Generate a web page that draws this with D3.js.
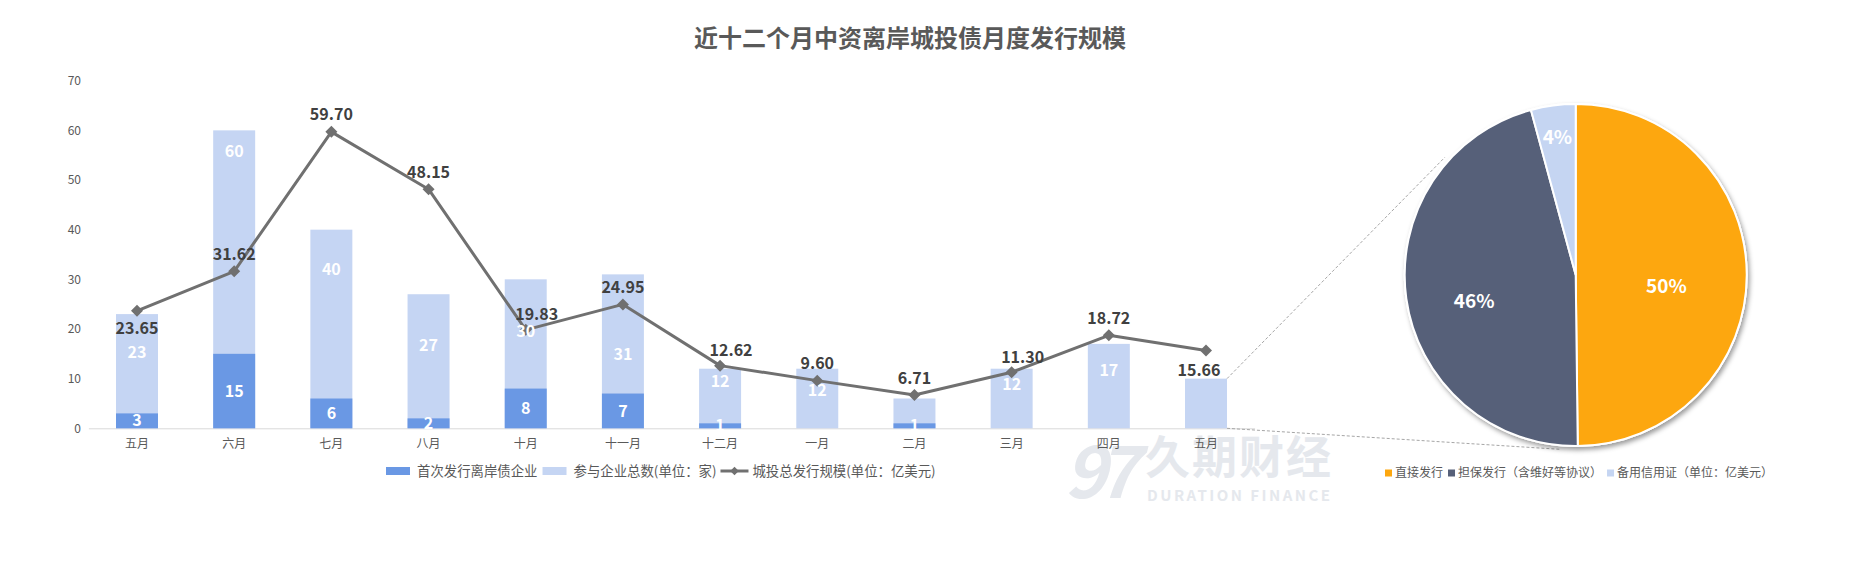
<!DOCTYPE html>
<html>
<head>
<meta charset="utf-8">
<script src="https://cdn.jsdelivr.net/npm/d3@7"></script>
<style>
    body { margin: 0; background: #fff; }
    text { font-family: "Microsoft YaHei", "Noto Sans CJK SC", sans-serif; }
</style>
</head>
<body>
<script>
// data
var months = ["五月", "六月", "七月", "八月", "十月", "十一月", "十二月", "一月", "二月", "三月", "四月", "五月"];
var firstIssuers = [3, 15, 6, 2, 8, 7, 1, 0, 1, 0, 0, 0];
var totalIssuers = [23, 60, 40, 27, 30, 31, 12, 12, 6, 12, 17, 10];
var issueAmount = [23.65, 31.62, 59.70, 48.15, 19.83, 24.95, 12.62, 9.60, 6.71, 11.30, 18.72, 15.66];
// where the total labels sit, in axis units (labels were dragged by hand in the original)
var totalLabelAt = [15.2, 55.7, 32.1, 16.6, 19.5, 14.8, 9.4, 7.7, null, 8.9, 11.6, null];
var amountLabelSide = ["below", "above", "above", "above", "right", "above", "right", "above", "above", "right", "above", "belowLeft"];
var yTicks = [0, 10, 20, 30, 40, 50, 60, 70];
var seriesNames = ["首次发行离岸债企业", "参与企业总数(单位：家)", "城投总发行规模(单位：亿美元)"];

var pieNames = ["直接发行", "担保发行（含维好等协议）", "备用信用证（单位：亿美元）"];
var pieValues = [7.80, 7.20, 0.66];
var pieLabelRadius = [0.53, 0.6, 0.81];

function init()
{
    var w = 1865;
    var h = 565;

    var darkBlue = "#6a98e4";
    var lightBlue = "#c5d5f3";
    var lineGrey = "#707070";
    var pieColors = ["#fda70f", "#566079", "#c5d5f2"];

    var svg = d3.select("body")
                .append("svg")
                .attr("width", w)
                .attr("height", h);

    var defs = svg.append("defs");
    var shadow = defs.append("filter")
                     .attr("id", "pieShadow")
                     .attr("x", "-20%").attr("y", "-20%")
                     .attr("width", "140%").attr("height", "140%");
    shadow.append("feDropShadow")
          .attr("dx", 2).attr("dy", 3)
          .attr("stdDeviation", 2.5)
          .attr("flood-color", "#000")
          .attr("flood-opacity", 0.4);

    // watermark
    var wm = svg.append("g").attr("fill", "#e5e8ed");
    wm.append("text")
      .attr("x", 1064).attr("y", 498)
      .attr("font-size", 72).attr("font-weight", "bold")
      .attr("font-style", "italic")
      .attr("letter-spacing", -10)
      .attr("font-family", "DejaVu Sans")
      .text("97");
    wm.append("text")
      .attr("x", 1145).attr("y", 474)
      .attr("font-size", 45).attr("font-weight", "bold")
      .attr("textLength", 186)
      .text("久期财经");
    wm.append("text")
      .attr("x", 1147).attr("y", 501)
      .attr("font-size", 15).attr("font-weight", "bold")
      .attr("textLength", 183)
      .attr("font-family", "DejaVu Sans")
      .text("DURATION FINANCE");

    // title
    svg.append("text")
       .attr("x", 910).attr("y", 47)
       .attr("text-anchor", "middle")
       .attr("font-size", 24)
       .attr("font-weight", "bold")
       .attr("fill", "#595959")
       .text("近十二个月中资离岸城投债月度发行规模");

    // scales
    var x = d3.scaleBand()
              .domain(d3.range(months.length))
              .range([88.4, 1254.6])
              .paddingInner(0.568)
              .paddingOuter(0.284);

    var y = d3.scaleLinear()
              .domain([0, 70])
              .range([428.3, 80.7]);

    // axes
    var yAxis = d3.axisLeft(y)
                  .tickValues(yTicks)
                  .tickSize(0)
                  .tickPadding(7);
    svg.append("g")
       .attr("transform", "translate(88,0)")
       .call(yAxis)
       .call(function(g) { g.select(".domain").remove(); })
       .selectAll("text")
       .attr("font-size", 12)
       .attr("fill", "#595959");

    var xAxis = d3.axisBottom(x)
                  .tickFormat(function(i) { return months[i]; })
                  .tickSize(0)
                  .tickPadding(11);
    var xg = svg.append("g")
                .attr("transform", "translate(0," + y(0) + ")")
                .call(xAxis);
    xg.select(".domain").attr("stroke", "#d9d9d9");
    xg.selectAll("text")
      .attr("font-size", 12)
      .attr("fill", "#595959");

    // dashed connector lines to the pie
    var pieCx = 1575.7, pieCy = 275, pieR = 171;
    function onPie(deg, r) {
        var a = deg * Math.PI / 180;
        return [pieCx + r * Math.sin(a), pieCy - r * Math.cos(a)];
    }
    var last = months.length - 1;
    var barRight = x(last) + x.bandwidth();
    var upper = onPie(-48, pieR + 5);
    var lower = onPie(185, pieR + 4);
    svg.append("line")
       .attr("x1", barRight).attr("y1", y(totalIssuers[last]))
       .attr("x2", upper[0]).attr("y2", upper[1])
       .attr("stroke", "#a6a6a6").attr("stroke-width", 1)
       .attr("stroke-dasharray", "3,2");
    svg.append("line")
       .attr("x1", barRight).attr("y1", y(0))
       .attr("x2", lower[0]).attr("y2", lower[1])
       .attr("stroke", "#a6a6a6").attr("stroke-width", 1)
       .attr("stroke-dasharray", "3,2");

    // bars (overlapped: total behind, first-time issuers in front)
    svg.selectAll("rect.total")
       .data(totalIssuers)
       .enter()
       .append("rect")
       .attr("class", "total")
       .attr("x", function(d, i) { return x(i); })
       .attr("y", function(d) { return y(d); })
       .attr("width", x.bandwidth())
       .attr("height", function(d) { return y(0) - y(d); })
       .attr("fill", lightBlue);

    svg.selectAll("rect.first")
       .data(firstIssuers)
       .enter()
       .append("rect")
       .attr("class", "first")
       .attr("x", function(d, i) { return x(i); })
       .attr("y", function(d) { return y(d); })
       .attr("width", x.bandwidth())
       .attr("height", function(d) { return y(0) - y(d); })
       .attr("fill", darkBlue);

    // line
    var line = d3.line()
                 .x(function(d, i) { return x(i) + x.bandwidth() / 2; })
                 .y(function(d) { return y(d); });
    svg.append("path")
       .datum(issueAmount)
       .attr("d", line)
       .attr("fill", "none")
       .attr("stroke", lineGrey)
       .attr("stroke-width", 3)
       .attr("stroke-linejoin", "round");

    var diamond = d3.symbol().type(d3.symbolSquare).size(72);
    svg.selectAll("path.marker")
       .data(issueAmount)
       .enter()
       .append("path")
       .attr("class", "marker")
       .attr("d", diamond)
       .attr("transform", function(d, i) {
           return "translate(" + (x(i) + x.bandwidth() / 2) + "," + y(d) + ") rotate(45)";
       })
       .attr("fill", lineGrey);

    // bar labels
    firstIssuers.forEach(function(d, i) {
        if (d <= 0) return;
        svg.append("text")
           .attr("x", x(i) + x.bandwidth() / 2)
           .attr("y", y(d / 2))
           .attr("dy", "0.35em")
           .attr("text-anchor", "middle")
           .attr("font-size", 16)
           .attr("font-weight", "bold")
           .attr("fill", "#fff")
           .text(d);
    });

    totalIssuers.forEach(function(d, i) {
        if (totalLabelAt[i] == null) return;
        svg.append("text")
           .attr("x", x(i) + x.bandwidth() / 2)
           .attr("y", y(totalLabelAt[i]))
           .attr("dy", "0.35em")
           .attr("text-anchor", "middle")
           .attr("font-size", 16)
           .attr("font-weight", "bold")
           .attr("fill", "#fff")
           .text(d);
    });

    // line labels
    var sideOffset = {
        above: [0, -17],
        right: [11, -15],
        below: [0, 18],
        belowLeft: [-7, 20]
    };
    issueAmount.forEach(function(d, i) {
        var off = sideOffset[amountLabelSide[i]];
        svg.append("text")
           .attr("x", x(i) + x.bandwidth() / 2 + off[0])
           .attr("y", y(d) + off[1])
           .attr("dy", "0.35em")
           .attr("text-anchor", "middle")
           .attr("font-size", 16)
           .attr("font-weight", "bold")
           .attr("fill", "#404040")
           .text(d3.format(".2f")(d));
    });

    // legend for bar/line chart
    var legend = svg.append("g").attr("transform", "translate(0,471)");
    var lx = 386;
    legend.append("rect")
          .attr("x", lx).attr("y", -4).attr("width", 24).attr("height", 8)
          .attr("fill", darkBlue);
    var t1 = legend.append("text")
                   .attr("x", lx + 31).attr("y", 0).attr("dy", "0.35em")
                   .attr("font-size", 13.4).attr("fill", "#595959")
                   .text(seriesNames[0]);
    lx = lx + 31 + t1.node().getComputedTextLength() + 5;
    legend.append("rect")
          .attr("x", lx).attr("y", -4).attr("width", 24).attr("height", 8)
          .attr("fill", lightBlue);
    var t2 = legend.append("text")
                   .attr("x", lx + 31).attr("y", 0).attr("dy", "0.35em")
                   .attr("font-size", 13.4).attr("fill", "#595959")
                   .text(seriesNames[1]);
    lx = lx + 31 + t2.node().getComputedTextLength() + 4;
    legend.append("line")
          .attr("x1", lx).attr("x2", lx + 28)
          .attr("y1", 0).attr("y2", 0)
          .attr("stroke", lineGrey).attr("stroke-width", 3);
    legend.append("path")
          .attr("d", d3.symbol().type(d3.symbolSquare).size(36))
          .attr("transform", "translate(" + (lx + 14) + ",0) rotate(45)")
          .attr("fill", lineGrey);
    legend.append("text")
          .attr("x", lx + 32).attr("y", 0).attr("dy", "0.35em")
          .attr("font-size", 13.4).attr("fill", "#595959")
          .text(seriesNames[2]);

    // pie
    var pie = d3.pie().sort(null).value(function(d) { return d; });
    var arcs = pie(pieValues);
    var arc = d3.arc().innerRadius(0).outerRadius(pieR);
    var total = d3.sum(pieValues);

    var pg = svg.append("g")
                .attr("transform", "translate(" + pieCx + "," + pieCy + ")");
    pg.append("circle")
      .attr("r", pieR + 1)
      .attr("fill", "#fff")
      .attr("filter", "url(#pieShadow)");
    pg.selectAll("path")
      .data(arcs)
      .enter()
      .append("path")
      .attr("d", arc)
      .attr("fill", function(d, i) { return pieColors[i]; })
      .attr("stroke", "#fff")
      .attr("stroke-width", 2);

    pg.selectAll("text")
      .data(arcs)
      .enter()
      .append("text")
      .attr("transform", function(d, i) {
          var r = pieR * pieLabelRadius[i];
          var c = d3.arc().innerRadius(r).outerRadius(r).centroid(d);
          // big slices: labels sit a little below the centroid line
          var shift = (d.value / total > 0.1) ? 12 : 0;
          return "translate(" + c[0] + "," + (c[1] + shift) + ")";
      })
      .attr("dy", "0.35em")
      .attr("text-anchor", "middle")
      .attr("font-size", 19)
      .attr("font-weight", "bold")
      .attr("fill", "#fff")
      .text(function(d) { return Math.round(d.value / total * 100) + "%"; });

    // pie legend
    var pl = svg.append("g").attr("transform", "translate(0,473)");
    var px = 1385;
    pieNames.forEach(function(name, i) {
        pl.append("rect")
          .attr("x", px).attr("y", -3.5).attr("width", 7).attr("height", 7)
          .attr("fill", pieColors[i]);
        var t = pl.append("text")
                  .attr("x", px + 10).attr("y", 0).attr("dy", "0.35em")
                  .attr("font-size", 12).attr("fill", "#595959")
                  .text(name);
        px = px + 10 + t.node().getComputedTextLength() + 5;
    });
}
window.onload = init;
</script>
</body>
</html>
